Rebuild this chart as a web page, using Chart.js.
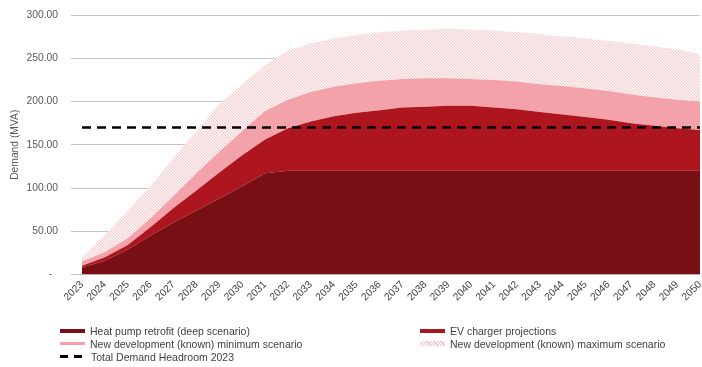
<!DOCTYPE html>
<html>
<head>
<meta charset="utf-8">
<script src="https://cdn.jsdelivr.net/npm/chart.js@4.4.1/dist/chart.umd.min.js"></script>
<style>
  html, body { margin: 0; padding: 0; background: #fff; }
  #wrap { position: relative; width: 702px; height: 367px; }
  #legend {
    position: absolute; left: 60px; top: 324px;
    display: grid; grid-template-columns: 360px auto;
    font: 10.5px "Liberation Sans", Arial, sans-serif; color: #404040;
  }
  .item { display: flex; align-items: center; height: 13px; white-space: nowrap; }
  .swatch { width: 25px; height: 4px; margin-right: 5px; flex: none; }
  .dash { width: 25px; height: 2.5px; margin-right: 6px; flex: none;
    background: repeating-linear-gradient(90deg, #000 0 8px, transparent 8px 14px); }
</style>
</head>
<body>
<div id="wrap">
  <canvas id="demandChart"></canvas>
  <div id="legend"></div>
</div>
<script>
const years = ['2023', '2024', '2025', '2026', '2027', '2028', '2029', '2030', '2031', '2032',
  '2033', '2034', '2035', '2036', '2037', '2038', '2039', '2040', '2041', '2042',
  '2043', '2044', '2045', '2046', '2047', '2048', '2049', '2050'];

// stacked components (MVA)
const heatPump = [8, 16, 29, 45, 60, 74, 88, 102, 117, 120, 120, 120, 120, 120, 120, 120, 120, 120,
  120, 120, 120, 120, 120, 120, 120, 120, 120, 120];
const evCharger = [2, 4, 5, 10, 17, 23, 30, 36, 39, 49, 57, 63, 67, 70, 73, 74, 75, 75,
  73, 71, 68, 65, 62, 59, 55, 52, 49, 47];
const newDevMin = [5, 6, 8, 10, 14, 20, 24, 28, 33, 33, 34, 34, 34, 34, 33, 33, 32, 31,
  32, 32, 32, 33, 33, 33, 33, 33, 33, 33];
const newDevMax = [5, 20, 32, 37, 44, 49, 55, 54, 53, 57, 56, 56, 56, 56, 56, 56, 57, 57,
  57, 57, 58, 57, 58, 58, 59, 59, 58, 55];
const headroom2023 = 170;

const yMax = 300;
const yStep = 50;

const dark = '#780f14';
const red = '#ae161f';
const pink = '#f2a2a8';
const hatchLine = '#f5c3c7';
const hatchBase = '#fdf1f2';
const axisText = '#595959';
const gridColor = '#c6c6c6';
const fontFamily = '"Liberation Sans", Arial, sans-serif';

function makeHatch() {
    const c = document.createElement('canvas');
    c.width = 3;
    c.height = 3;
    const g = c.getContext('2d');
    g.fillStyle = hatchBase;
    g.fillRect(0, 0, 3, 3);
    g.strokeStyle = hatchLine;
    g.lineWidth = 0.9;
    g.beginPath();
    g.moveTo(-1, -1); g.lineTo(4, 4);
    g.moveTo(-1, 2); g.lineTo(1, 4);
    g.moveTo(2, -1); g.lineTo(4, 1);
    g.stroke();
    return g.createPattern(c, 'repeat');
}

function areaSet(label, data, color, fill) {
    return {
        label: label,
        data: data,
        backgroundColor: color,
        borderWidth: 0,
        pointRadius: 0,
        tension: 0,
        fill: fill,
        stack: 'demand',
        order: 1,
    };
}

const ctx = document.getElementById('demandChart');
const chart = new Chart(ctx, {
    type: 'line',
    data: {
        labels: years,
        datasets: [
            areaSet('Heat pump retrofit (deep scenario)', heatPump, dark, 'origin'),
            areaSet('EV charger projections', evCharger, red, '-1'),
            areaSet('New development (known) minimum scenario', newDevMin, pink, '-1'),
            areaSet('New development (known) maximum scenario', newDevMax, makeHatch(), '-1'),
            {
                label: 'Total Demand Headroom 2023',
                data: years.map(() => headroom2023),
                borderColor: '#000000',
                borderWidth: 2.5,
                borderDash: [9, 6],
                pointRadius: 0,
                fill: false,
                stack: 'headroom',
                order: 0,
            },
        ],
    },
    options: {
        responsive: true,
        maintainAspectRatio: false,
        animation: false,
        layout: { padding: { top: 15, right: 2, left: 0, bottom: 0 } },
        scales: {
            x: {
                offset: false,
                grid: { display: false, drawTicks: false },
                border: { display: false },
                afterFit: (scale) => {
                    scale.height = 92.5;
                    scale.paddingLeft = 0;
                    scale.paddingRight = 0;
                },
                ticks: {
                    autoSkip: false,
                    minRotation: 45,
                    maxRotation: 45,
                    padding: 4,
                    color: '#404040',
                    font: { family: fontFamily, size: 10.3 },
                },
            },
            y: {
                stacked: true,
                min: 0,
                max: yMax,
                afterFit: (scale) => {
                    scale.width = 82;
                    scale.paddingTop = 0;
                    scale.paddingBottom = 0;
                },
                grid: { color: gridColor, lineWidth: 1, drawTicks: true, tickLength: 11 },
                border: { display: false },
                ticks: {
                    stepSize: yStep,
                    padding: 13,
                    color: axisText,
                    font: { family: fontFamily, size: 10.3 },
                    callback: (v) => (v === 0 ? '-  ' : v.toFixed(2)),
                },
                title: {
                    display: true,
                    text: 'Demand (MVA)',
                    color: axisText,
                    font: { family: fontFamily, size: 10.3 },
                    padding: { top: 9, bottom: 0 },
                },
            },
        },
        plugins: {
            legend: { display: false },
            tooltip: { enabled: false },
        },
    },
});

// html legend, two columns like the source
const legendEl = document.getElementById('legend');
const swatchCss = [
    'background:' + dark,
    'background:' + red,
    'background:' + pink + ';height:3.5px',
    'height:5px;background:repeating-linear-gradient(45deg,' + hatchLine + ' 0 1px,' + hatchBase + ' 1px 2.5px)',
];
chart.data.datasets.forEach((ds, i) => {
    const item = document.createElement('div');
    item.className = 'item';
    const sw = document.createElement('span');
    if (i < 4) {
        sw.className = 'swatch';
        sw.style.cssText = swatchCss[i];
    } else {
        sw.className = 'dash';
    }
    const txt = document.createElement('span');
    txt.textContent = ds.label;
    item.appendChild(sw);
    item.appendChild(txt);
    legendEl.appendChild(item);
});
</script>
</body>
</html>
